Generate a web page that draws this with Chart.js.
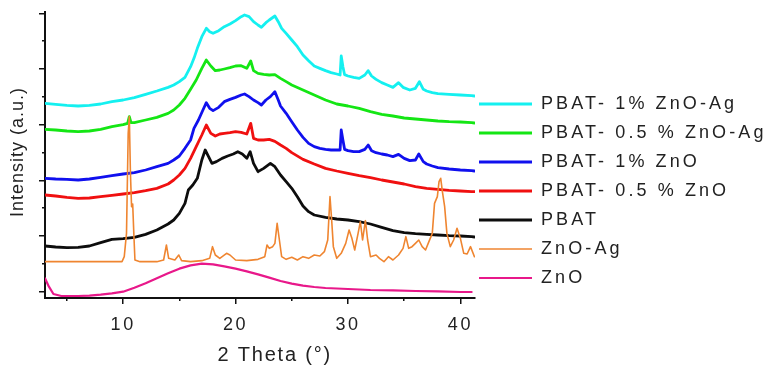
<!DOCTYPE html>
<html><head><meta charset="utf-8">
<script src="https://cdn.jsdelivr.net/npm/chart.js@4.4.1/dist/chart.umd.min.js"></script>
<style>html,body{margin:0;padding:0;background:#fff;}canvas{display:block;}</style>
</head><body>
<canvas id="c" width="766" height="367"></canvas>
<script>
// ---- Data (2θ in degrees, intensity in arbitrary units, stacked offsets as plotted) ----
const seriesLabels = ['PBAT- 1% ZnO-Ag', 'PBAT- 0.5 % ZnO-Ag', 'PBAT- 1% ZnO', 'PBAT- 0.5 % ZnO', 'PBAT', 'ZnO-Ag', 'ZnO'];
const seriesColors = ['#14f0f0', '#14e614', '#1010ee', '#f01010', '#0d0d0d', '#ef8530', '#e8188a'];

const xTickValues = [10, 20, 30, 40];
const xMinorTickValues = [5, 15, 25, 35];
const yTickValues = [0, 167, 334, 501, 668, 835];
const yMinorTickValues = [83.5, 250.5, 417.5, 584.5, 751.5];

const thetaPBAT1ZnOAg = [3.05,4,5,6,7,8,9,10,11,12,13,14,14.5,15,15.5,16,16.3,16.6,17,17.4,17.7,18,18.5,19,19.5,20,20.5,20.8,21.2,21.6,22,22.3,22.7,23,23.5,23.8,24.1,24.5,25,25.5,26,26.5,27,27.5,28,28.5,29,29.3,29.4,29.55,29.7,30,30.5,31,31.5,31.8,32.1,32.5,33,33.5,34,34.5,34.9,35.5,36,36.35,36.7,37,37.5,38,39,40,41,41.25];
const intPBAT1ZnOAg = [565,562,559,557,559,563,570,575,582,592,602,613,620,630,643,675,700,730,765,790,780,775,783,795,803,813,825,830,825,810,800,793,807,815,827,810,790,775,755,735,710,693,677,670,663,657,653,650,707,675,651,647,643,640,650,663,647,637,627,620,613,627,613,605,610,630,607,602,597,594,592,590,588,587];

const thetaPBAT05ZnOAg = [3.05,4,5,6,7,8,9,10,10.4,10.55,10.7,11,12,13,14,14.5,15,15.5,16,16.5,17,17.4,17.8,18.2,18.6,19,19.5,20,20.5,21,21.35,21.6,22,22.5,23,23.5,24,24.5,25,26,27,28,29,30,31,32,33,34,35,36,37,38,39,40,41,41.25];
const intPBAT05ZnOAg = [487,485,482,480,482,487,495,501,505,525,507,507,515,523,535,545,560,580,607,635,670,695,677,663,665,668,672,677,678,670,692,663,655,652,650,651,640,630,620,605,590,575,563,557,550,540,532,527,521,518,515,512,510,509,507,506];

const thetaPBAT1ZnO = [3.05,4,5,6,7,8,9,10,11,12,13,14,14.5,15,15.5,16,16.3,16.7,17.1,17.4,17.7,18,18.5,19,19.5,20,20.5,20.8,21.2,21.6,22,22.3,22.7,23.1,23.5,23.8,24,24.5,25,25.5,26,26.5,27,27.5,28,28.5,29,29.3,29.4,29.55,29.7,30,30.5,31,31.5,31.8,32.1,32.5,33,33.5,34,34.5,35,35.5,36,36.3,36.7,37,37.5,38,39,40,41,41.25];
const intPBAT1ZnO = [340,338,337,335,338,343,348,353,357,365,375,385,395,407,430,455,490,515,545,567,550,543,553,570,577,583,590,593,585,575,567,560,575,585,600,575,557,535,510,485,463,445,435,430,427,425,425,425,485,455,427,423,420,420,427,440,423,417,413,410,405,412,400,393,395,413,390,383,377,372,368,365,363,362];

const thetaPBAT05ZnO = [3.05,4,5,6,7,8,9,10,11,12,13,14,14.5,15,15.5,16,16.5,17,17.4,17.8,18.2,18.6,19,19.5,20,20.5,21,21.35,21.6,22,22.5,23,23.5,24,24.5,25,26,27,28,29,30,31,32,33,34,35,36,37,38,39,40,41,41.25];
const intPBAT05ZnO = [290,287,283,280,281,285,289,293,297,303,310,323,335,350,370,400,435,470,500,475,467,473,475,477,480,478,473,505,460,455,455,457,451,440,430,417,397,383,370,362,355,348,342,335,329,323,315,310,307,304,302,300,300];

const thetaPBAT = [3.05,4,5,6,7,8,9,10,11,12,13,14,14.5,15,15.5,15.8,16.2,16.6,17,17.3,17.6,17.9,18.3,18.8,19.3,19.8,20.2,20.6,21,21.3,21.6,22,22.5,23.1,23.5,24,24.5,25,25.5,26,26.5,27,28,29,30,31,32,33,34,35,36,37,38,39,40,41,41.25];
const intPBAT = [137,134,132,133,137,147,157,159,163,172,185,203,215,235,265,305,320,340,395,425,405,385,390,400,407,413,420,413,400,420,385,360,370,385,375,350,330,310,285,257,240,230,223,218,215,210,203,193,183,177,174,172,170,168,167,165,164];

const thetaZnOAg = [3.05,5,7,9,9.9,10.1,10.3,10.45,10.55,10.65,10.75,10.85,10.95,11.05,11.5,12,13,13.6,13.85,14.05,14.6,14.95,15.2,16,17,17.7,17.95,18.2,18.6,19.2,19.5,20,21,22,22.6,22.8,23,23.3,23.5,23.7,23.9,24.1,24.5,25,25.5,26,26.5,27,27.5,27.9,28.2,28.4,28.55,28.7,29,29.4,29.8,30.1,30.35,30.6,30.9,31.1,31.3,31.55,31.75,32,32.5,32.8,33.2,33.6,34,34.5,34.9,35.15,35.4,35.7,36,36.3,36.6,36.9,37.2,37.5,37.7,37.95,38.1,38.25,38.4,38.6,38.8,39.1,39.4,39.7,40,40.3,40.6,40.9,41.25];
const intZnOAg = [90,90,90,90,90,105,175,475,525,355,255,263,175,95,90,90,90,95,140,100,95,110,93,90,93,100,135,110,100,115,110,95,93,97,105,140,130,135,145,205,155,105,97,103,95,105,100,110,107,120,155,285,215,135,100,115,145,185,160,125,175,210,155,213,155,105,110,100,90,105,95,110,130,165,130,135,145,155,135,125,150,175,265,285,330,340,300,255,175,135,155,190,160,115,113,135,105];

const thetaZnO = [3.05,3.4,3.8,4.5,6,7,8,9,10,11,12,13,14,15,16,17,18,19,20,21,22,23,24,25,26,27,28,30,32,34,36,38,40,41];
const intZnO = [40,15,-7,-13,-13,-12,-9,-5,0,12,25,40,55,69,79,84,82,76,69,61,52,42,32,24,18,14,11,8,5,4,2,1,-1,-1];

const seriesTheta = [thetaPBAT1ZnOAg, thetaPBAT05ZnOAg, thetaPBAT1ZnO, thetaPBAT05ZnO, thetaPBAT, thetaZnOAg, thetaZnO];
const seriesInt = [intPBAT1ZnOAg, intPBAT05ZnOAg, intPBAT1ZnO, intPBAT05ZnO, intPBAT, intZnOAg, intZnO];

// ---- Rendering ----
const X_MIN = 3.05, X_MAX = 41.3, Y_MIN = -19, Y_MAX = 839;
const X_TITLE = '\u00a0\u00a0\u00a0 2 Theta (°)';
const Y_TITLE = '\u00a0Intensity (a.u.)';
const canvas = document.getElementById('c');
const ctx = canvas.getContext('2d');
const origFillText = ctx.fillText;
function spacingFor(text) {
  const t = String(text);
  if (t === Y_TITLE) return '1px';
  if (t === X_TITLE) return '1.8px';
  if (seriesLabels.includes(t)) return '3.1px';
  return '2.5px';
}
ctx.fillText = function (text, x, y, maxWidth) {
  this.letterSpacing = spacingFor(text);
  return maxWidth === undefined ? origFillText.call(this, text, x, y) : origFillText.call(this, text, x, y, maxWidth);
};

Chart.defaults.font.family = '"Liberation Sans", Arial, sans-serif';
Chart.defaults.color = '#222';

const LEGEND_W = 291;
function patchLegend(l) {
  if (!l || l._fixedW) return;
  const f = l.fit;
  l.fit = function () { f.call(this); this.width = LEGEND_W; };
  l._fixedW = true;
}
const legendPlugin = {
  id: 'legendTweak',
  afterInit(chart) { patchLegend(chart.legend); },
  beforeUpdate(chart) { patchLegend(chart.legend); },
  afterLayout(chart) { if (chart.legend) { chart.legend.left -= 7; } }
};

const datasets = seriesLabels.map((label, i) => ({
  label,
  data: seriesTheta[i].map((t, k) => ({ x: t, y: seriesInt[i][k] })),
  borderColor: seriesColors[i],
  backgroundColor: seriesColors[i],
  borderWidth: i === 5 ? 1.6 : (i === 6 ? 2.2 : 2.8),
  borderJoinStyle: 'round',
  borderCapStyle: 'round',
  pointRadius: 0,
  tension: 0,
  order: i === 5 ? -1 : i,
  xAxisID: 'x',
  yAxisID: 'y'
}));

const tickGrid = (len) => ({ display: true, drawOnChartArea: false, drawTicks: true, tickLength: len, color: '#111', lineWidth: 1.5 });

new Chart(canvas, {
  type: 'line',
  data: { datasets },
  plugins: [legendPlugin],
  options: {
    responsive: false,
    animation: false,
    devicePixelRatio: 1,
    layout: { padding: { top: 12, left: 0, right: 0, bottom: 0 } },
    plugins: {
      tooltip: { enabled: false },
      legend: {
        position: 'right',
        align: 'start',
        title: { display: true, text: ' ', font: { size: 10 }, padding: { top: 60, bottom: 0 } },
        labels: {
          usePointStyle: true,
          pointStyle: 'line',
          pointStyleWidth: 53,
          padding: 11,
          color: '#222',
          font: { size: 18 },
          sort: (a, b) => a.datasetIndex - b.datasetIndex
        }
      }
    },
    scales: {
      x: {
        type: 'linear', position: 'bottom', weight: 1, min: X_MIN, max: X_MAX,
        afterFit: s => { s.height = 69; },
        afterBuildTicks: s => { s.ticks = xTickValues.map(v => ({ value: v })); },
        grid: tickGrid(6),
        border: { display: true, color: '#111', width: 2 },
        ticks: { display: true, font: { size: 18 }, color: '#222', padding: 10, maxRotation: 0, autoSkip: false },
        title: { display: true, text: X_TITLE, font: { size: 20 }, color: '#222', padding: { top: 0, bottom: 0 } }
      },
      xMinor: {
        type: 'linear', axis: 'x', position: 'bottom', weight: 0, min: X_MIN, max: X_MAX,
        afterFit: s => { s.height = 0; },
        afterBuildTicks: s => { s.ticks = xMinorTickValues.map(v => ({ value: v })); },
        grid: tickGrid(3),
        border: { display: false },
        ticks: { display: false }
      },
      y: {
        type: 'linear', position: 'left', weight: 1, min: Y_MIN, max: Y_MAX,
        afterFit: s => { s.width = 45; },
        afterBuildTicks: s => { s.ticks = yTickValues.map(v => ({ value: v })); },
        grid: tickGrid(6),
        border: { display: true, color: '#111', width: 2 },
        ticks: { display: false },
        title: { display: true, text: Y_TITLE, font: { size: 18 }, color: '#222', padding: { top: 7, bottom: 0 } }
      },
      yMinor: {
        type: 'linear', axis: 'y', position: 'left', weight: 0, min: Y_MIN, max: Y_MAX,
        afterFit: s => { s.width = 0; },
        afterBuildTicks: s => { s.ticks = yMinorTickValues.map(v => ({ value: v })); },
        grid: tickGrid(3),
        border: { display: false },
        ticks: { display: false }
      }
    }
  }
});
</script>
</body></html>
